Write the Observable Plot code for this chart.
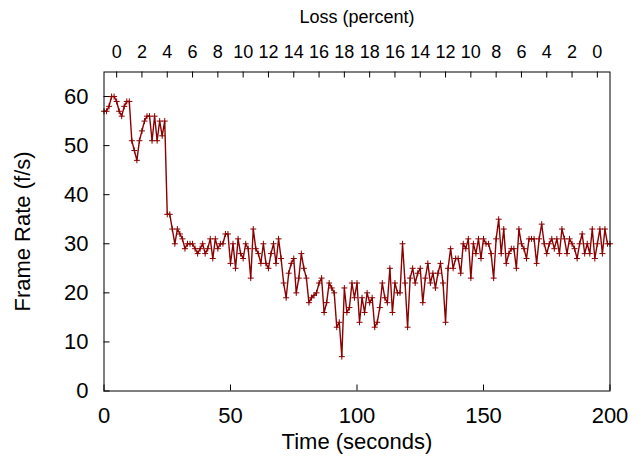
<!DOCTYPE html>
<html><head><meta charset="utf-8">
<script src="https://cdn.jsdelivr.net/npm/d3@7"></script>
<script src="https://cdn.jsdelivr.net/npm/@observablehq/plot@0.6"></script>
<style>body{margin:0;background:#fff} svg{display:block}</style>
</head><body><div id="chart"></div>
<script>
// Frame rate (f/s), one sample per second, t = 0..200
const frameRate = [
  57, 57, 58, 60, 60, 59, 57, 56, 58, 59, 59, 51, 49, 47, 51, 53, 55, 56, 56, 51, 56, 51, 55, 52, 55,
  36, 36, 33, 30, 33, 32, 31, 29, 30, 30, 30, 29, 28, 29, 30, 28, 29, 31, 27, 31, 29, 30, 30, 32, 32, 26, 30,
  25, 31, 28, 27, 30, 29, 23, 33, 29, 28, 26, 30, 26, 25, 28, 30, 26, 31, 27, 22, 19, 24, 26, 27, 20, 23, 28, 25,
  23, 18, 19, 19.5, 20, 22, 23, 16, 18, 22, 21, 20, 13, 14, 7, 21, 16, 17, 22, 19, 22, 14, 19, 16, 20, 18, 19,
  13, 14, 17, 22, 19, 18, 25, 16, 22, 20, 20, 30, 22, 13, 23, 25, 22, 24, 25, 18, 23, 26, 22, 24, 21, 24, 26, 22, 14,
  25, 29, 25, 27, 27, 24, 30, 29, 31, 23, 30, 28, 31, 27, 31, 30, 30, 28, 23, 31, 35, 28, 33, 26,
  28, 29, 29, 25, 33, 30, 29, 27, 31, 31, 31, 26, 31,
  34, 30, 28, 30, 31, 29, 31, 28, 33, 31, 28, 31, 30, 29, 27, 30, 32, 28, 30, 28, 33, 27, 30, 33, 28, 33, 30, 30
];
const xTicks = [0, 50, 100, 150, 200];
const yTicks = [0, 10, 20, 30, 40, 50, 60];
const lossTickTimes = [5, 15, 25, 35, 45, 55, 65, 75, 85, 95, 105, 115, 125, 135, 145, 155, 165, 175, 185, 195];
const lossLabels = ["0","2","4","6","8","10","12","14","16","18","18","16","14","12","10","8","6","4","2","0"];
const xLabel = "Time (seconds)";
const yLabel = "Frame Rate (f/s)";
const topLabel = "Loss (percent)";

const data = frameRate.map((v, i) => ({t: i, fps: v}));
const color = "#8b0000";
const plusSymbol = {
  draw(ctx, size) {
    const r = Math.sqrt(size / Math.PI);
    ctx.moveTo(-r, 0); ctx.lineTo(r, 0);
    ctx.moveTo(0, -r); ctx.lineTo(0, r);
  }
};

const W = 642, H = 460, mL = 103.5, mR = 32.5, mT = 71.5, mB = 69.5;
const innerW = W - mL - mR, innerH = H - mT - mB;
const tick = 6;

const chart = Plot.plot({
  width: W, height: H,
  marginLeft: mL, marginRight: mR, marginTop: mT, marginBottom: mB,
  style: {fontFamily: "'Liberation Sans', Arial, sans-serif", background: "white", color: "black"},
  x: {domain: [0, 200]},
  y: {domain: [0, 65]},
  marks: [
    Plot.tickX(xTicks, {x: d => d, insetTop: innerH - tick, stroke: "black"}),
    Plot.tickY(yTicks, {y: d => d, insetRight: innerW - tick, stroke: "black"}),
    Plot.tickX(lossTickTimes, {x: d => d, insetBottom: innerH - tick, stroke: "black"}),
    Plot.axisX({ticks: xTicks, tickSize: 0, tickPadding: 16, fontSize: 22, label: null}),
    Plot.axisY({ticks: yTicks, tickSize: 0, tickPadding: 15.5, fontSize: 22, label: null}),
    Plot.axisX({anchor: "top", ticks: lossTickTimes, tickFormat: d => lossLabels[lossTickTimes.indexOf(d)], tickSize: 0, tickPadding: 14.4, fontSize: 18, label: null}),
    Plot.line(data, {x: "t", y: "fps", stroke: color, strokeWidth: 1.4}),
    Plot.dot(data, {x: "t", y: "fps", symbol: plusSymbol, r: 3, stroke: color, fill: "none", strokeWidth: 1}),
    Plot.frame({stroke: "black", strokeWidth: 1}),
    Plot.text([xLabel], {text: d => d, frameAnchor: "bottom", lineAnchor: "middle", textAnchor: "middle", dy: 50.5, fontSize: 22}),
    Plot.text([yLabel], {text: d => d, frameAnchor: "left", lineAnchor: "middle", textAnchor: "middle", dx: -81.5, rotate: -90, fontSize: 22}),
    Plot.text([topLabel], {text: d => d, frameAnchor: "top", lineAnchor: "middle", textAnchor: "middle", dy: -54.7, fontSize: 18})
  ]
});
document.getElementById("chart").appendChild(chart);
</script>
</body></html>
